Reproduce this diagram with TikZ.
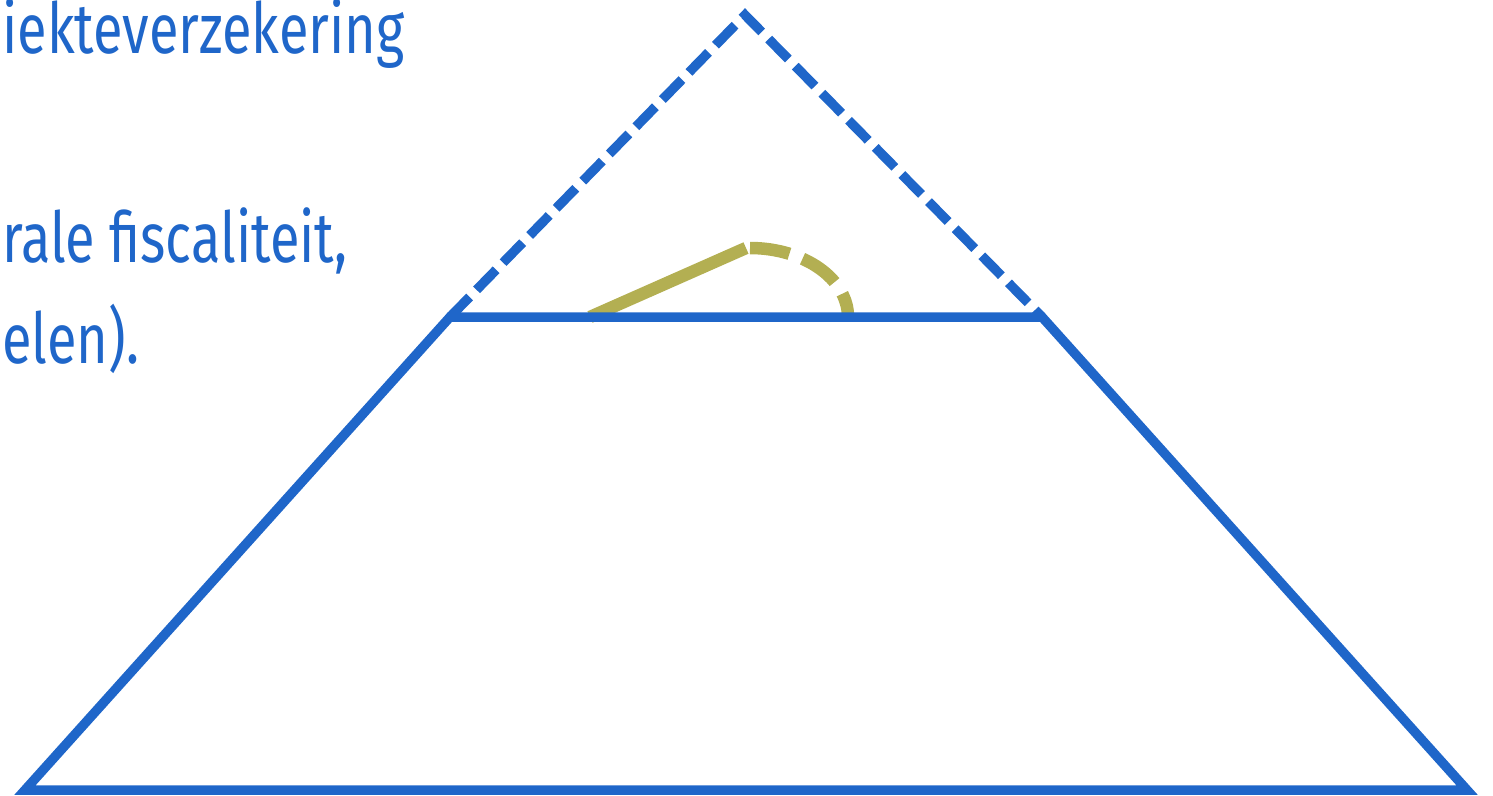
\documentclass[tikz,border=0pt]{standalone}
\usepackage{fontspec}
\setmainfont{Fira Sans}[FakeStretch=0.77]
\usetikzlibrary{positioning}
\definecolor{pyrBlue}{HTML}{1F66C9}
\definecolor{pyrOlive}{HTML}{B3AF52}

\begin{document}
\begin{tikzpicture}[
        x=0.02cm, y=-0.02cm,
        textNode/.style={anchor=base west, inner sep=0pt, text=pyrBlue, font=\fontsize{40}{48}\selectfont},
        baseLine/.style={draw=pyrBlue, line width=0.19cm, line join=miter},
        topLine/.style={baseLine, dash pattern=on 0.56cm off 0.2cm},
        curveLine/.style={draw=pyrOlive, line width=0.25cm}
    ]
        \useasboundingbox (0,0) rectangle (1493,795);

        % Text (cut off at the left edge)
        \node[textNode] (lineA) at (2,53) {iekteverzekering};
        \node[textNode] (lineB) at (2,262) {rale fiscaliteit,};
        \node[textNode] (lineC) at (2,363) {elen).};

        % Pyramid corners
        \coordinate (botL) at (25,790);
        \coordinate (botR) at (1467,790);
        \coordinate (topL) at (450,317);
        \coordinate (topR) at (1042,317);
        \coordinate (apex) at (745,15);

        % Olive line and arc
        \coordinate (olStart) at (590,317);
        \coordinate (olPeak) at (746,248);
        \draw[curveLine] (olStart) -- (olPeak);
        \draw[curveLine, dash pattern=on 0.8cm off 0.28cm] (750,248) arc[start angle=270, end angle=360, x radius=98, y radius=69];

        % Pyramid
        \draw[topLine] (topL) -- (apex) -- (topR);
        \draw[baseLine] (topL) -- (botL) -- (botR) -- (topR) -- cycle;
    \end{tikzpicture}
\end{document}
